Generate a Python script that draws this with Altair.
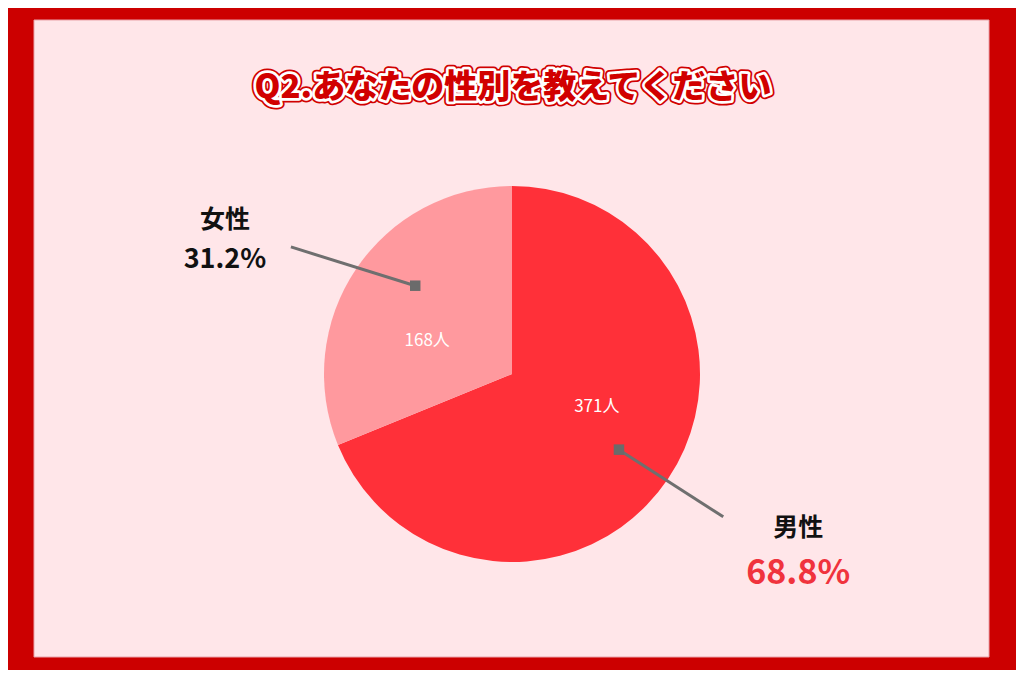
import altair as alt
import pandas as pd

# ---- data ----
categories = ["男性", "女性"]
counts = [371, 168]
percent_labels = ["68.8%", "31.2%"]
count_labels = ["371人", "168人"]
slice_order = [0, 1]
slice_colors = ["#FF3039", "#FF999E"]
title_text = "Q2.あなたの性別を教えてください"

df = pd.DataFrame({
    "cat": categories,
    "value": counts,
    "pct": percent_labels,
    "cnt": count_labels,
    "order": slice_order,
})

W, H = 1008, 662
CX, CY = 504, 366
R = 188
FONT = "Noto Sans CJK JP"

one = pd.DataFrame({"t": [title_text]})

# ---- background panel ----
panel = alt.Chart(one).mark_rect(fill="#FFE6E9", stroke="#E9A3AA", strokeWidth=1).encode(
    x=alt.value(26), x2=alt.value(981), y=alt.value(12), y2=alt.value(649)
)

# ---- title with outlines ----
def title_layer(**kw):
    return alt.Chart(one).mark_text(
        font=FONT, fontSize=33, fontWeight=900, align="center", baseline="middle",
        strokeJoin="round", **kw
    ).encode(text="t:N", x=alt.value(505), y=alt.value(80))

title_outer = title_layer(fill="#D10000", stroke="#D10000", strokeWidth=9)
title_mid = title_layer(fill="#FFFFFF", stroke="#FFFFFF", strokeWidth=5.5)
title_top = title_layer(fill="#D10000")

# ---- pie ----
base = alt.Chart(df).encode(
    theta=alt.Theta("value:Q", stack=True),
    order=alt.Order("order:Q"),
    x=alt.value(CX),
    y=alt.value(CY),
)
arcs = base.mark_arc(outerRadius=R).encode(
    color=alt.Color("cat:N", scale=alt.Scale(domain=categories, range=slice_colors), legend=None)
)
inner_labels = base.mark_text(
    radius=91, thetaOffset=-0.22, font=FONT, fontSize=17, color="white"
).encode(text="cnt:N")

# ---- leader lines and outer labels (positions derived from slice angles) ----
geo = alt.Chart(df).transform_window(
    cum="sum(value)", sort=[alt.SortField("order")], frame=[None, 0]
).transform_joinaggregate(
    total="sum(value)"
).transform_calculate(
    mid="2*PI*(datum.cum - datum.value/2)/datum.total",
    left="datum.mid > PI ? 1 : 0",
).transform_calculate(
    ain="datum.mid + (datum.left ? 0.148 : 0.024)",
    aout="datum.mid + (datum.left ? -0.07 : 0.003)",
).transform_calculate(
    ax=f"{CX} + 131*sin(datum.ain)",
    ay=f"{CY} - 131*cos(datum.ain)",
    bx=f"{CX} + 255*sin(datum.aout)",
    by=f"{CY} - 255*cos(datum.aout)",
).transform_calculate(
    lx="datum.bx + (datum.left ? -66 : 75)",
    ny="datum.by + (datum.left ? -27 : 11)",
).transform_calculate(
    py="datum.ny + (datum.left ? 40 : 46)",
)

lines = geo.mark_rule(color="#6F6F6F", strokeWidth=3).encode(
    x=alt.X("ax:Q", scale=None), y=alt.Y("ay:Q", scale=None),
    x2="bx:Q", y2="by:Q",
)
squares = geo.mark_square(size=110, color="#6B6B6B", opacity=1).encode(
    x=alt.X("ax:Q", scale=None), y=alt.Y("ay:Q", scale=None)
)
names = geo.mark_text(font=FONT, fontSize=25, fontWeight="bold", color="#111111",
                      align="center", baseline="middle").encode(
    x=alt.X("lx:Q", scale=None), y=alt.Y("ny:Q", scale=None), text="cat:N"
)
pcts = geo.mark_text(font=FONT, fontWeight="bold", align="center", baseline="middle").encode(
    x=alt.X("lx:Q", scale=None), y=alt.Y("py:Q", scale=None), text="pct:N",
    size=alt.Size("cat:N", scale=alt.Scale(domain=categories, range=[34, 27]), legend=None),
    color=alt.Color("cat:N", scale=alt.Scale(domain=categories, range=["#F0333D", "#111111"]), legend=None),
)

chart = alt.layer(
    panel, title_outer, title_mid, title_top, arcs, inner_labels, lines, squares, names, pcts
).resolve_scale(color="independent", size="independent").properties(
    width=W, height=H, background="#CC0000",
    autosize=alt.AutoSizeParams(type="none"), padding=0,
).configure_view(stroke=None)

chart.save("out.html", embed_options={"renderer": "svg", "actions": False})
